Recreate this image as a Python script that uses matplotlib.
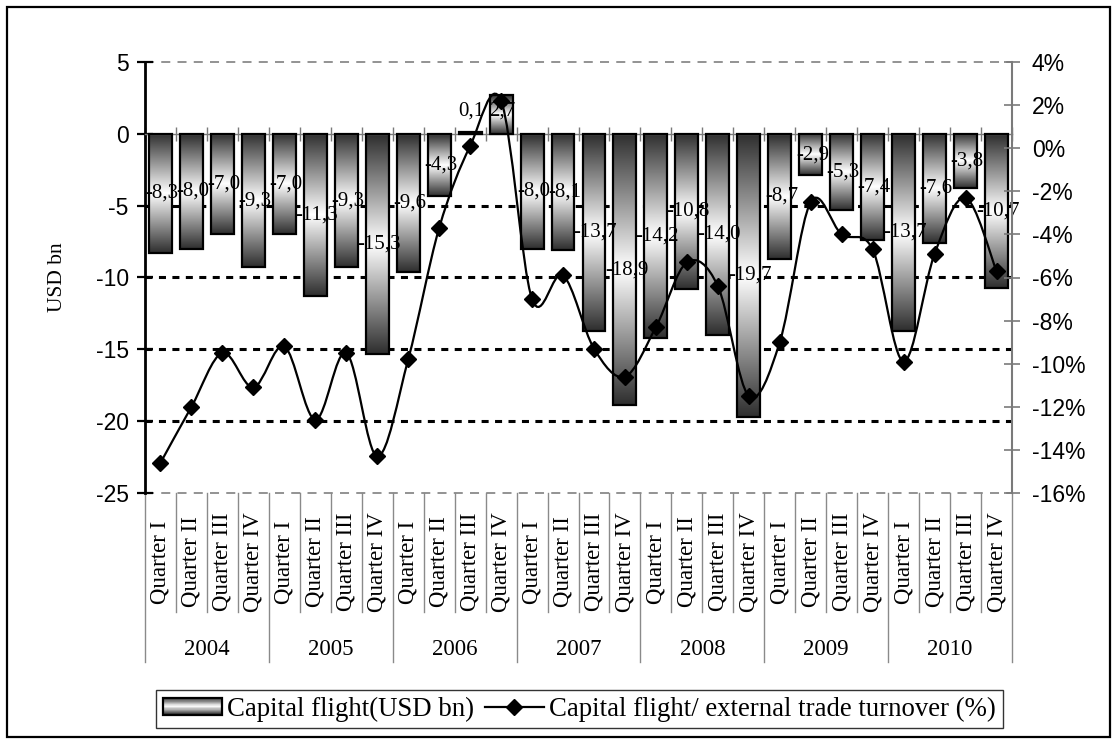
import numpy as np
import matplotlib
matplotlib.use('Agg')
import matplotlib.pyplot as plt
import matplotlib.transforms as mtransforms
from matplotlib.colors import LinearSegmentedColormap
from matplotlib.path import Path
from matplotlib.patches import PathPatch, Rectangle
from matplotlib.lines import Line2D
from matplotlib.legend_handler import HandlerBase
from matplotlib.ticker import FuncFormatter

# Quarterly capital flight, 2004-2010
years = ['2004', '2005', '2006', '2007', '2008', '2009', '2010']
quarters = ['Quarter I', 'Quarter II', 'Quarter III', 'Quarter IV']

flight_usd_bn = [-8.3, -8.0, -7.0, -9.3,
                 -7.0, -11.3, -9.3, -15.3,
                 -9.6, -4.3, 0.1, 2.7,
                 -8.0, -8.1, -13.7, -18.9,
                 -14.2, -10.8, -14.0, -19.7,
                 -8.7, -2.9, -5.3, -7.4,
                 -13.7, -7.6, -3.8, -10.7]

# capital flight as share of external trade turnover, %
flight_share_pct = [-14.6, -12.0, -9.5, -11.1,
                    -9.2, -12.6, -9.5, -14.3,
                    -9.8, -3.7, 0.1, 2.2,
                    -7.0, -5.9, -9.3, -10.6,
                    -8.3, -5.3, -6.4, -11.5,
                    -9.0, -2.5, -4.0, -4.7,
                    -9.9, -4.9, -2.3, -5.7]

SERIF = 'Liberation Serif'
SANS = 'Liberation Sans'
plt.rcParams['axes.unicode_minus'] = False

bar_cmap = LinearSegmentedColormap.from_list('tube', ['#2e2e2e', '#ffffff', '#2e2e2e'])


class GradientBarHandler(HandlerBase):
    """Legend key drawn as horizontal stripes of the bar gradient."""
    def create_artists(self, legend, orig_handle, xdescent, ydescent,
                       width, height, fontsize, trans):
        artists = []
        n = 30
        for k in range(n):
            shade = bar_cmap((k + 0.5) / n)
            artists.append(Rectangle((-xdescent, -ydescent + k * height / n),
                                     width, height / n, facecolor=shade,
                                     edgecolor='none', transform=trans))
        artists.append(Rectangle((-xdescent, -ydescent), width, height,
                                 facecolor='none', edgecolor='black',
                                 lw=1.6, transform=trans))
        return artists


def smooth_path(xs, ys):
    """Cubic Bezier path through the points (Catmull-Rom style smoothing)."""
    pts = np.column_stack([xs, ys]).astype(float)
    n = len(pts)
    verts = [pts[0]]
    codes = [Path.MOVETO]
    for i in range(n - 1):
        p0 = pts[i - 1] if i > 0 else pts[i]
        p1 = pts[i]
        p2 = pts[i + 1]
        p3 = pts[i + 2] if i + 2 < n else pts[i + 1]
        verts += [p1 + (p2 - p0) / 6.0, p2 - (p3 - p1) / 6.0, p2]
        codes += [Path.CURVE4] * 3
    return Path(verts, codes)


W, H = 1117, 744
fig = plt.figure(figsize=(W / 100, H / 100), dpi=100)
ax = fig.add_axes([145 / W, 1 - 493 / H, 867 / W, 431 / H])

x = np.arange(len(flight_usd_bn))

# horizontal reference lines
for level in [-5, -10, -15, -20]:
    ax.axhline(level, color='black', lw=2.2, linestyle=(0, (2.3, 2.1)), zorder=1)
for level in [5, -25]:
    ax.axhline(level, color='#8a8a8a', lw=1.3, linestyle=(0, (5, 4)), zorder=1,
               clip_on=False)

bars = ax.bar(x, flight_usd_bn, width=0.74, facecolor='none',
              edgecolor='black', linewidth=1.6, zorder=3)

grad = np.linspace(0, 1, 256).reshape(-1, 1)
for rect in bars:
    x0, y0 = rect.get_x(), rect.get_y()
    w, h = rect.get_width(), rect.get_height()
    im = ax.imshow(grad, cmap=bar_cmap, aspect='auto', interpolation='bilinear',
                   extent=(x0, x0 + w, y0, y0 + h), zorder=2)
    im.set_clip_path(rect)

# value labels in the middle of each bar
for xi, v in zip(x, flight_usd_bn):
    ly = v / 2 if v < 0 else 1.6
    ax.text(xi + 0.05, ly, f'{v:.1f}'.replace('.', ','), ha='center', va='center',
            fontsize=15, family=SERIF, zorder=4)

ax.set_xlim(-0.5, len(x) - 0.5)
ax.set_ylim(-25, 5)
ax.set_yticks(np.arange(-25, 6, 5))

# category axis crosses at zero
ax.spines['bottom'].set_position(('data', 0))
ax.spines['bottom'].set_color('#7a7a7a')
ax.spines['bottom'].set_linewidth(1.0)
ax.spines['top'].set_visible(False)
ax.spines['right'].set_visible(False)
ax.spines['left'].set_linewidth(2)
ax.set_xticks(np.arange(len(x) + 1) - 0.5)
ax.tick_params(axis='x', direction='inout', length=10, width=1, color='#7a7a7a',
               labelbottom=False)
ax.tick_params(axis='y', direction='inout', length=11.5, width=1.6,
               labelsize=16.5, pad=6)
for lab in ax.get_yticklabels():
    lab.set_family(SANS)

# two-level category labels below the plot
tr = mtransforms.blended_transform_factory(ax.transData, ax.transAxes)
for xi in x:
    ax.text(xi, -0.16, quarters[xi % 4], rotation=90, ha='center', va='center',
            fontsize=16.5, family=SERIF, transform=tr)
for b in range(len(x) + 1):
    bottom = -0.392 if b % 4 == 0 else -0.276
    ax.plot([b - 0.5, b - 0.5], [0, bottom], color='#8a8a8a', lw=1.0,
            transform=tr, clip_on=False)
for k, yr in enumerate(years):
    ax.text(4 * k + 1.5, -0.362, yr, ha='center', va='center',
            fontsize=16.5, family=SERIF, transform=tr)

fig.text(58 / W, 1 - 277 / H, 'USD bn', rotation=90, ha='center', va='center',
         fontsize=15.5, family=SERIF)

# share of trade turnover on the secondary axis
ax2 = ax.twinx()
ax2.set_ylim(-16, 4)
ax2.set_yticks(np.arange(-16, 5, 2))
ax2.yaxis.set_major_formatter(FuncFormatter(lambda v, _: f'{v:.0f}%'))
for side in ['left', 'top', 'bottom']:
    ax2.spines[side].set_visible(False)
ax2.spines['right'].set_color('#7a7a7a')
ax2.spines['right'].set_linewidth(1.5)
ax2.tick_params(axis='y', direction='inout', length=11.5, width=1.2,
                color='#7a7a7a', labelsize=16.5, pad=8.5)
for lab in ax2.get_yticklabels():
    lab.set_family(SANS)

ax2.add_patch(PathPatch(smooth_path(x, flight_share_pct), fill=False,
                        edgecolor='black', lw=1.6, zorder=3))
ax2.plot(x, flight_share_pct, linestyle='none', marker='D', ms=8.5,
         color='black', zorder=4)

# legend
bar_key = Rectangle((0, 0), 1, 1)
line_key = Line2D([], [], color='black', lw=1.6, marker='D', ms=8.5)
leg = fig.legend([bar_key, line_key],
                 ['Capital flight(USD bn)', 'Capital flight/ external trade turnover (%)'],
                 handler_map={Rectangle: GradientBarHandler()},
                 loc='center', bbox_to_anchor=(579.5 / W, 1 - 709 / H), ncol=2,
                 prop={'family': SERIF, 'size': 19.3}, frameon=True, fancybox=False,
                 handlelength=2.2, handleheight=0.6, handletextpad=0.2,
                 columnspacing=0.4, borderpad=0.25, borderaxespad=0)
leg.get_frame().set_edgecolor('black')
leg.get_frame().set_linewidth(1.0)

# outer frame
fig.patches.append(Rectangle((7 / W, 7 / H), 1103 / W, 730 / H, transform=fig.transFigure,
                             fill=False, edgecolor='black', lw=1.6))

fig.savefig('out.png', dpi=100)
